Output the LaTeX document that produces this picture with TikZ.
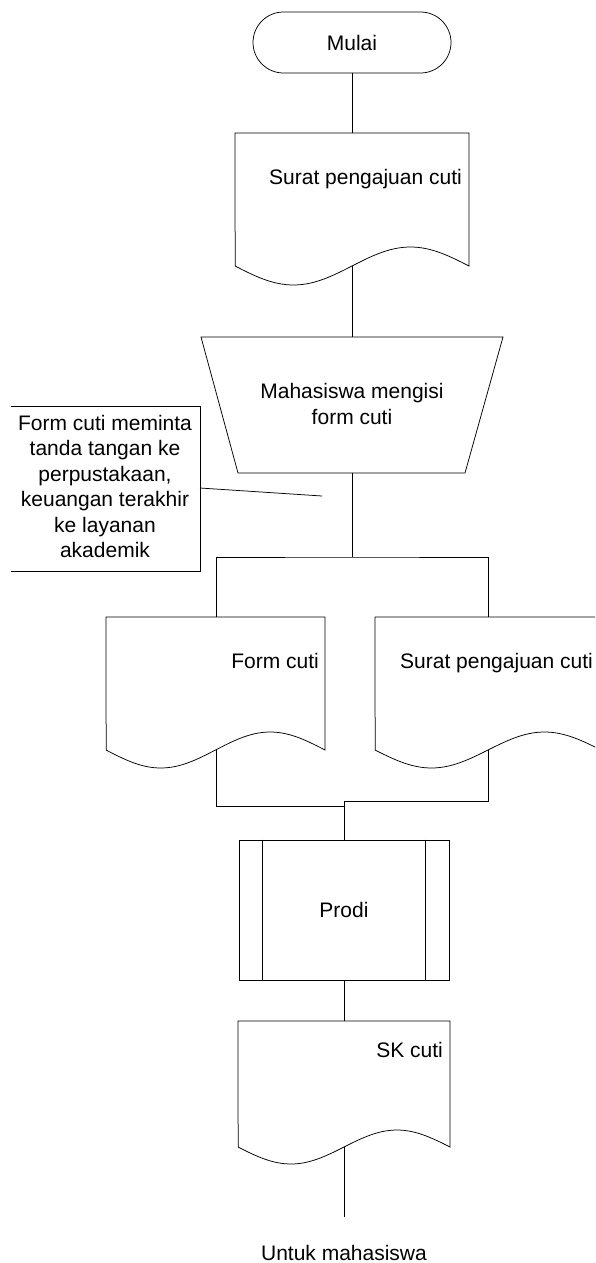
\documentclass[tikz,border=0pt]{standalone}
\usepackage{fontspec}
\setmainfont{Liberation Sans}
\tikzset{
  line/.style={draw=black, line width=0.75pt},
  shapeline/.style={draw=black, line width=0.75pt},
  lbl/.style={font=\fontsize{21}{26}\selectfont, inner sep=0pt},
  notelbl/.style={font=\fontsize{21}{25.5}\selectfont, inner sep=0pt, align=center},
}
% document shape: left, top, right, side-bottom, wave amplitude
\newcommand\docpath[5]{%
  \draw[shapeline] (#1,#2) -- (#3,#2) -- (#3,#4) --
    plot[domain=1:0,samples=60] ({#1+\x*(#3-#1)},{#4+#5*sin(360*\x)}) -- cycle;}
\begin{document}
\begin{tikzpicture}[x=1pt,y=-1pt]
\useasboundingbox (0,0) rectangle (595,1263);
\clip (0,0) rectangle (595,1263);

% Start terminal
\node[shapeline, lbl, rounded corners=30.5pt, minimum width=198pt, minimum height=61pt] (start) at (352,42.5) {Mulai};

% Document 1
\docpath{235}{133}{469}{266}{19}
\coordinate (d1top) at (352,133);
\coordinate (d1bot) at (352,266);
\node[lbl, anchor=base east] (d1lbl) at (462,184) {Surat pengajuan cuti};

% Manual operation (trapezoid)
\draw[shapeline] (201,337) -- (503,337) -- (465,473) -- (238,473) -- cycle;
\coordinate (trtop) at (352,337);
\coordinate (trbot) at (352,473);
\node[lbl, align=center] (trlbl) at (352,404.4) {Mahasiswa mengisi\\form cuti};

% Annotation
\draw[shapeline] (11,406) -- (200,406) -- (200,571) -- (11,571);
\node[notelbl] (note) at (105,486.7) {Form cuti meminta\\tanda tangan ke\\perpustakaan,\\keuangan terakhir\\ke layanan\\akademik};
\coordinate (notept) at (200,488);
\coordinate (noteend) at (322,496);
\draw[line] (notept) -- (noteend);

% Split
\coordinate (split) at (352,557);
\coordinate (d2top) at (216,617);
\coordinate (d3top) at (488,617);
\draw[line] (trbot) -- (split);
\draw[line] (d2top) |- (split) -| (d3top);

% Document 2 (Form cuti)
\docpath{106}{617}{325}{750}{18}
\coordinate (d2bot) at (216,750);
\node[lbl, anchor=base east] (d2lbl) at (319,668) {Form cuti};

% Document 3 (Surat pengajuan cuti)
\docpath{375}{617}{601}{750}{18}
\coordinate (d3bot) at (488,750);
\node[lbl, anchor=base west] (d3lbl) at (400,668) {Surat pengajuan cuti};

% Predefined process
\node[shapeline, lbl, minimum width=210pt, minimum height=140pt] (prodi) at (344,910) {Prodi};
\draw[line] ([xshift=24pt]prodi.north west) -- ([xshift=24pt]prodi.south west);
\draw[line] ([xshift=-24pt]prodi.north east) -- ([xshift=-24pt]prodi.south east);

% Merge
\coordinate (joinL) at (344,806);
\coordinate (joinR) at (344,801);
\draw[line] (d2bot) |- (joinL);
\draw[line] (d3bot) |- (joinR) -- (prodi.north);

% Document 4 (SK cuti)
\docpath{238}{1021}{450}{1147}{17}
\coordinate (d4top) at (344,1021);
\coordinate (d4bot) at (344,1147);
\node[lbl, anchor=base east] (d4lbl) at (443,1057) {SK cuti};

\draw[line] (start.south) -- (d1top);
\draw[line] (d1bot) -- (trtop);
\draw[line] (prodi.south) -- (d4top);
\coordinate (endpt) at (344,1217);
\draw[line] (d4bot) -- (endpt);
\node[lbl, anchor=base] (untuk) at (344,1260) {Untuk mahasiswa};
\end{tikzpicture}
\end{document}
